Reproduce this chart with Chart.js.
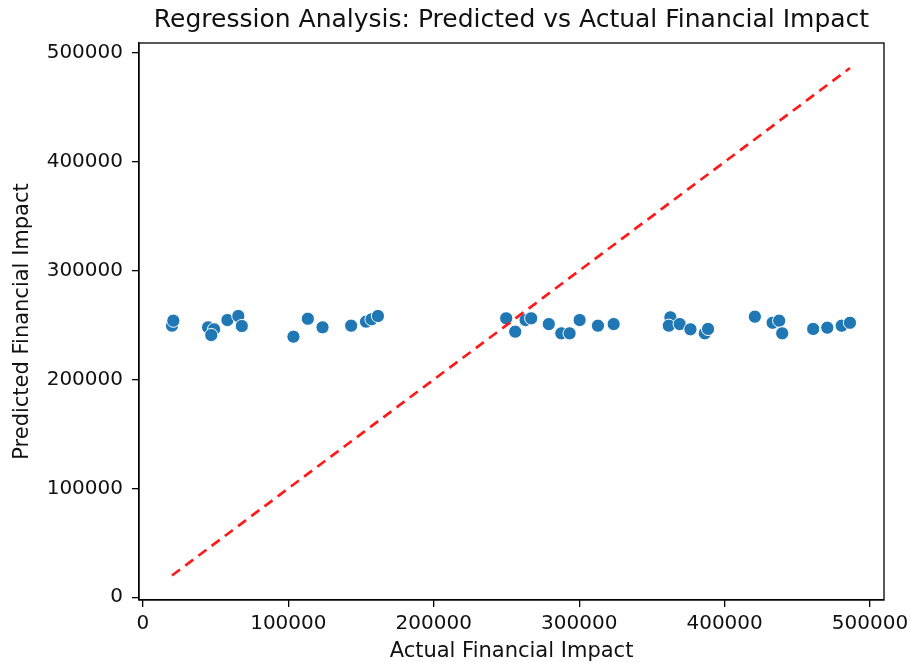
<!DOCTYPE html>
<html lang="en">
<head>
  <meta charset="UTF-8" />
  <title>Regression Analysis</title>
  <script src="https://cdn.jsdelivr.net/npm/chart.js"></script>
  <style>
    body { margin: 0; background: #fff; }
  </style>
</head>
<body>
  <canvas id="regressionChart" width="909" height="662"></canvas>

  <script>
    // values
    const actualValues = [
      20000, 20900, 44800, 48900, 47000, 58100, 65600, 68000, 103500, 113400,
      123500, 143200, 153400, 157200, 161600, 249800, 256000, 263100, 267000, 279100,
      287700, 293400, 300300, 312900, 323700, 362700, 361600, 369100, 376500, 386400,
      388600, 420800, 433000, 437500, 439600, 460900, 470600, 480500, 486200
    ];
    const predictedValues = [
      249500, 254100, 248000, 246200, 240900, 254700, 258400, 249200, 239400, 255900,
      248000, 249500, 253200, 255400, 258400, 256300, 244000, 254700, 256300, 251000,
      242500, 242500, 254700, 249500, 251000, 257200, 249500, 251000, 246200, 242500,
      246500, 257800, 252200, 254100, 242500, 246500, 247700, 249500, 252200
    ];
    const idealLine = [20000, 486200];
    const xTicks = [0, 100000, 200000, 300000, 400000, 500000];
    const yTicks = [0, 100000, 200000, 300000, 400000, 500000];

    const font = 'DejaVu Sans';

    const frame = {
      id: 'frame',
      afterDraw(chart) {
        const { ctx, chartArea: a } = chart;
        ctx.save();
        ctx.strokeStyle = '#000';
        ctx.lineWidth = 1.3;
        ctx.strokeRect(a.left, a.top, a.right - a.left, a.bottom - a.top);
        ctx.restore();
      }
    };

    new Chart(document.getElementById('regressionChart'), {
      type: 'scatter',
      data: {
        datasets: [
          {
            type: 'line',
            data: idealLine.map(v => ({ x: v, y: v })),
            borderColor: '#ff1a1a',
            borderWidth: 2.7,
            borderDash: [10, 6.5],
            pointRadius: 0,
            fill: false,
            order: 0
          },
          {
            data: actualValues.map((v, i) => ({ x: v, y: predictedValues[i] })),
            backgroundColor: '#1f77b4',
            borderColor: '#ffffff',
            borderWidth: 1,
            pointRadius: 6.6,
            pointHoverRadius: 6.6,
            order: 1
          }
        ]
      },
      options: {
        responsive: false,
        animation: false,
        events: [],
        layout: { padding: { left: 0, right: 25, top: 0, bottom: 0 } },
        plugins: {
          legend: { display: false },
          tooltip: { enabled: false },
          title: {
            display: true,
            fullSize: false,
            text: 'Regression Analysis: Predicted vs Actual Financial Impact',
            color: '#111',
            font: { family: font, size: 25, weight: 'normal' },
            padding: { top: 5, bottom: 8 }
          }
        },
        scales: {
          x: {
            type: 'linear',
            min: -2700,
            max: 509600,
            afterBuildTicks: s => { s.ticks = xTicks.map(v => ({ value: v })); },
            afterFit: s => { s.height = 62; s.paddingLeft = 0; s.paddingRight = 0; },
            grid: { drawOnChartArea: false, drawTicks: true, tickLength: 7, color: '#000', lineWidth: 1.3 },
            border: { display: true, color: '#000', width: 1.3 },
            ticks: {
              color: '#111',
              padding: 5,
              maxRotation: 0,
              autoSkip: false,
              font: { family: font, size: 20 },
              callback: v => String(v)
            },
            title: {
              display: true,
              text: 'Actual Financial Impact',
              color: '#111',
              font: { family: font, size: 21, lineHeight: 1 },
              padding: { top: 0, bottom: 0 }
            }
          },
          y: {
            type: 'linear',
            min: -2500,
            max: 509200,
            afterBuildTicks: s => { s.ticks = yTicks.map(v => ({ value: v })); },
            afterFit: s => { s.width = 139; s.paddingTop = 0; s.paddingBottom = 0; },
            grid: { drawOnChartArea: false, drawTicks: true, tickLength: 7, color: '#000', lineWidth: 1.3 },
            border: { display: true, color: '#000', width: 1.3 },
            ticks: {
              color: '#111',
              padding: 9,
              autoSkip: false,
              font: { family: font, size: 20 },
              callback: v => String(v)
            },
            title: {
              display: true,
              text: 'Predicted Financial Impact',
              color: '#111',
              font: { family: font, size: 21, lineHeight: 1 },
              padding: { top: 12, bottom: 0 }
            }
          }
        }
      },
      plugins: [frame]
    });
  </script>
</body>
</html>
